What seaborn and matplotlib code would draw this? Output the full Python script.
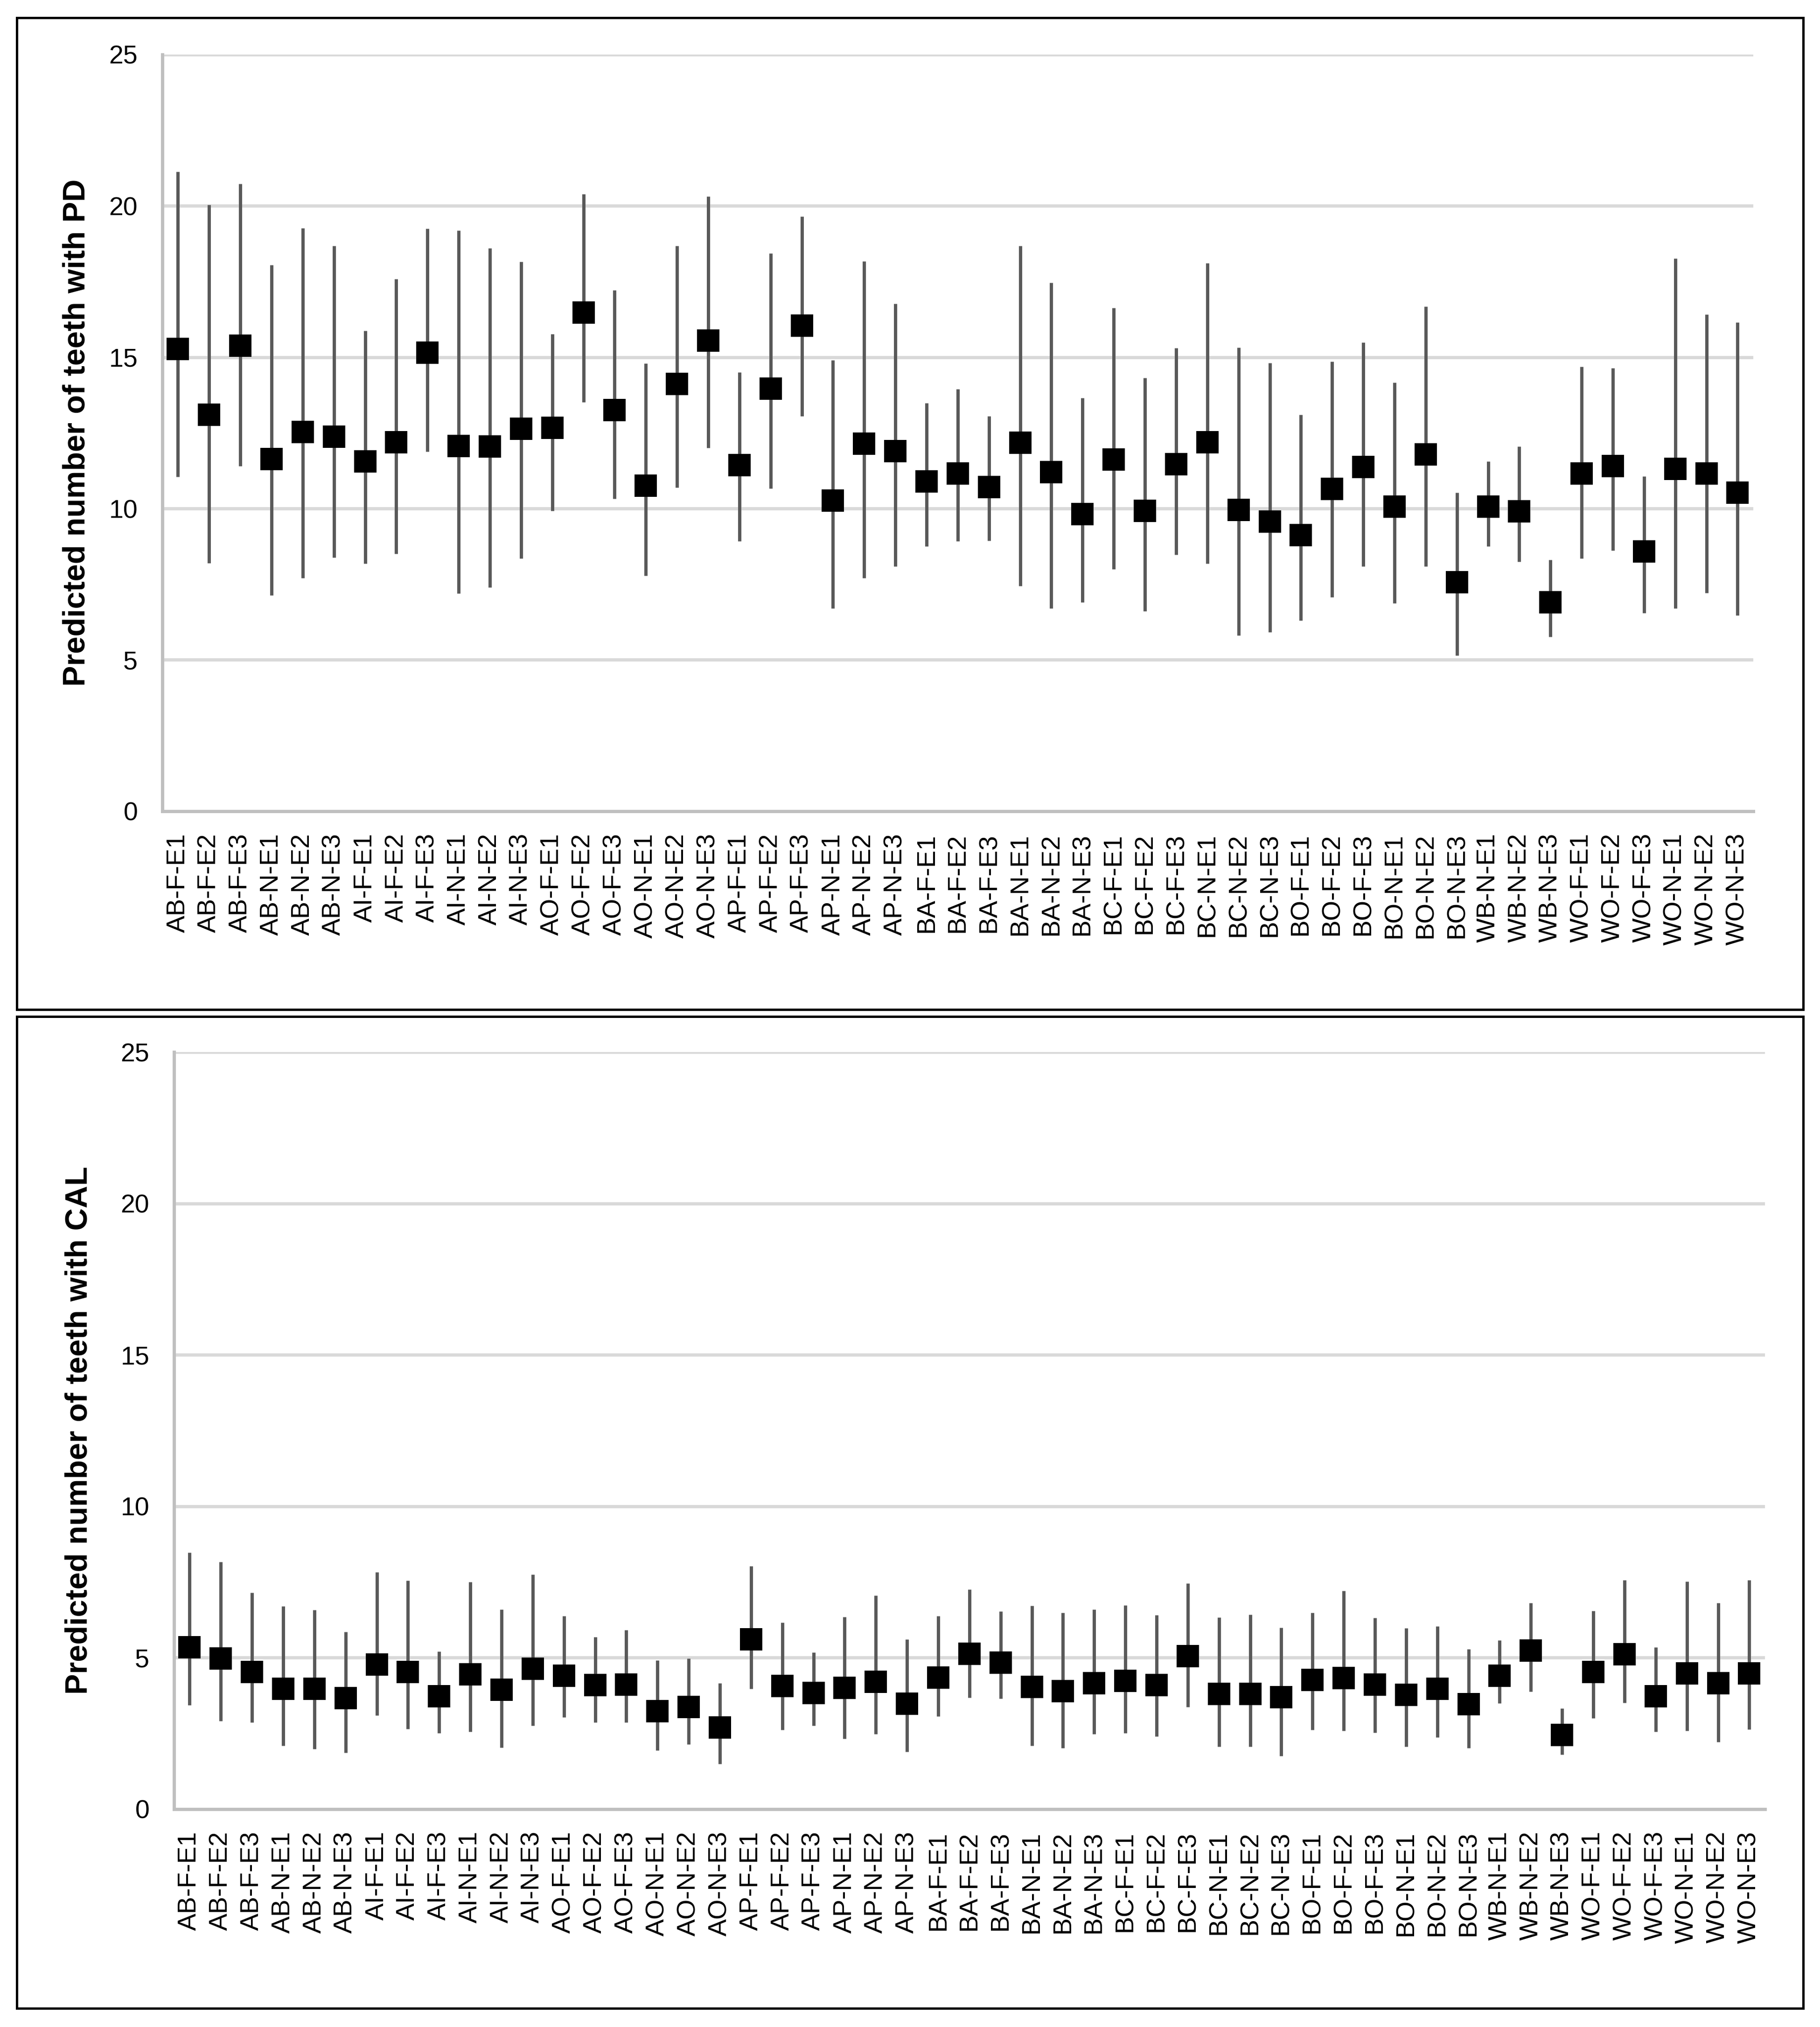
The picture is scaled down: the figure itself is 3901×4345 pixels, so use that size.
import numpy as np
import pandas as pd
import matplotlib
matplotlib.use('Agg')
import matplotlib.pyplot as plt
import seaborn as sns
from matplotlib.patches import Rectangle

# group codes on the x axis
categories = ['AB-F-E1', 'AB-F-E2', 'AB-F-E3', 'AB-N-E1', 'AB-N-E2', 'AB-N-E3',
              'AI-F-E1', 'AI-F-E2', 'AI-F-E3', 'AI-N-E1', 'AI-N-E2', 'AI-N-E3',
              'AO-F-E1', 'AO-F-E2', 'AO-F-E3', 'AO-N-E1', 'AO-N-E2', 'AO-N-E3',
              'AP-F-E1', 'AP-F-E2', 'AP-F-E3', 'AP-N-E1', 'AP-N-E2', 'AP-N-E3',
              'BA-F-E1', 'BA-F-E2', 'BA-F-E3', 'BA-N-E1', 'BA-N-E2', 'BA-N-E3',
              'BC-F-E1', 'BC-F-E2', 'BC-F-E3', 'BC-N-E1', 'BC-N-E2', 'BC-N-E3',
              'BO-F-E1', 'BO-F-E2', 'BO-F-E3', 'BO-N-E1', 'BO-N-E2', 'BO-N-E3',
              'WB-N-E1', 'WB-N-E2', 'WB-N-E3',
              'WO-F-E1', 'WO-F-E2', 'WO-F-E3', 'WO-N-E1', 'WO-N-E2', 'WO-N-E3']

# predicted number of teeth with PD (estimate + interval)
pd_mean = [15.28, 13.10, 15.38, 11.64, 12.53, 12.38, 11.56, 12.19, 15.15, 12.07, 12.05, 12.64,
           12.66, 16.48, 13.25, 10.76, 14.12, 15.55, 11.43, 13.97, 16.04, 10.27, 12.15, 11.90,
           10.90, 11.16, 10.71, 12.17, 11.20, 9.81, 11.62, 9.93, 11.47, 12.19, 9.95, 9.57,
           9.13, 10.65, 11.37, 10.06, 11.79, 7.57, 10.06, 9.91, 6.91, 11.16, 11.41, 8.58,
           11.31, 11.16, 10.52]
pd_high = [21.13, 20.03, 20.73, 18.05, 19.27, 18.68, 15.87, 17.58, 19.25, 19.19, 18.60, 18.15,
           15.77, 20.39, 17.22, 14.79, 18.68, 20.31, 14.50, 18.43, 19.65, 14.90, 18.17, 16.76,
           13.48, 13.95, 13.06, 18.68, 17.46, 13.65, 16.63, 14.31, 15.30, 18.11, 15.32, 14.81,
           13.10, 14.86, 15.49, 14.16, 16.67, 10.52, 11.56, 12.05, 8.31, 14.69, 14.64, 11.07,
           18.26, 16.42, 16.15]
pd_low = [11.05, 8.20, 11.41, 7.14, 7.71, 8.39, 8.18, 8.50, 11.88, 7.19, 7.40, 8.35,
          9.93, 13.52, 10.33, 7.78, 10.69, 12.00, 8.92, 10.67, 13.06, 6.70, 7.71, 8.09,
          8.75, 8.92, 8.94, 7.44, 6.70, 6.91, 7.99, 6.61, 8.47, 8.18, 5.81, 5.92,
          6.30, 7.08, 8.09, 6.87, 8.09, 5.14, 8.75, 8.24, 5.77, 8.35, 8.62, 6.55,
          6.70, 7.21, 6.47]

# predicted number of teeth with CAL
cal_mean = [5.34, 4.98, 4.52, 3.97, 3.97, 3.66, 4.78, 4.52, 3.73, 4.45, 3.95, 4.63,
            4.41, 4.10, 4.11, 3.24, 3.37, 2.69, 5.60, 4.06, 3.84, 4.00, 4.20, 3.48,
            4.35, 5.13, 4.84, 4.03, 3.89, 4.16, 4.23, 4.09, 5.05, 3.80, 3.81, 3.69,
            4.27, 4.32, 4.11, 3.78, 3.98, 3.46, 4.40, 5.24, 2.45, 4.52, 5.11, 3.73,
            4.48, 4.16, 4.48]
cal_high = [8.47, 8.16, 7.14, 6.70, 6.57, 5.86, 7.83, 7.54, 5.20, 7.50, 6.59, 7.74,
            6.37, 5.69, 5.92, 4.91, 4.97, 4.16, 8.03, 6.16, 5.18, 6.35, 7.05, 5.60,
            6.37, 7.25, 6.53, 6.71, 6.49, 6.59, 6.73, 6.40, 7.46, 6.33, 6.42, 5.99,
            6.48, 7.21, 6.32, 5.97, 6.03, 5.28, 5.57, 6.81, 3.32, 6.54, 7.57, 5.35,
            7.52, 6.80, 7.56]
cal_low = [3.44, 2.91, 2.87, 2.09, 1.98, 1.87, 3.09, 2.65, 2.51, 2.56, 2.03, 2.76,
           3.04, 2.87, 2.87, 1.94, 2.14, 1.50, 3.98, 2.61, 2.75, 2.32, 2.48, 1.89,
           3.06, 3.68, 3.65, 2.09, 2.01, 2.48, 2.51, 2.40, 3.38, 2.07, 2.07, 1.76,
           2.61, 2.59, 2.52, 2.07, 2.37, 2.02, 3.49, 3.88, 1.80, 3.00, 3.51, 2.56,
           2.58, 2.21, 2.64]

sns.set_theme(style='white')
plt.rcParams['font.family'] = ['Liberation Sans', 'DejaVu Sans']

fig = plt.figure(figsize=(19.505, 21.725), dpi=200)

def draw_panel(ax, mean, low, high, ylabel, label_x):
    df = pd.DataFrame({'group': categories, 'mean': mean, 'low': low, 'high': high})
    ax.vlines(df['group'], df['low'], df['high'], color='#595959', linewidth=2.5,
              zorder=2)
    sns.scatterplot(data=df, x='group', y='mean', marker='s', s=300, color='black',
                    linewidth=0, ax=ax, zorder=3)
    ax.set_xlim(-0.5, len(categories) - 0.5)
    ax.set_ylim(0, 25)
    ax.set_yticks([0, 5, 10, 15, 20, 25])
    ax.yaxis.grid(True, color='#d9d9d9', linewidth=2.5)
    ax.xaxis.grid(False)
    ax.set_axisbelow(True)
    for s in ['top', 'right']:
        ax.spines[s].set_visible(False)
    for s in ['left', 'bottom']:
        ax.spines[s].set_color('#bfbfbf')
        ax.spines[s].set_linewidth(2.5)
    ax.tick_params(axis='y', length=0, pad=19, labelsize=20, labelcolor='black')
    ax.tick_params(axis='x', length=0, pad=17, labelsize=20, labelcolor='black',
                   labelrotation=90)
    ax.set_xlabel('')
    ax.set_ylabel(ylabel, fontsize=24, fontweight='bold', color='black')
    ax.yaxis.set_label_coords(label_x, 0.5)

ax1 = fig.add_axes([0.0892, 0.5998, 0.8741, 0.3733])
draw_panel(ax1, pd_mean, pd_low, pd_high, 'Predicted number of teeth with PD', -0.0446)

ax2 = fig.add_axes([0.0956, 0.1075, 0.8741, 0.3735])
draw_panel(ax2, cal_mean, cal_low, cal_high, 'Predicted number of teeth with CAL', -0.0507)

# black frames round each panel
for (x0, y0, x1, y1) in [(0.0092, 0.5020, 0.9908, 0.9913), (0.0092, 0.0092, 0.9908, 0.4985)]:
    fig.add_artist(Rectangle((x0, y0), x1 - x0, y1 - y0, transform=fig.transFigure,
                             fill=False, edgecolor='black', linewidth=1.8))

fig.savefig('out.png', dpi=200)
